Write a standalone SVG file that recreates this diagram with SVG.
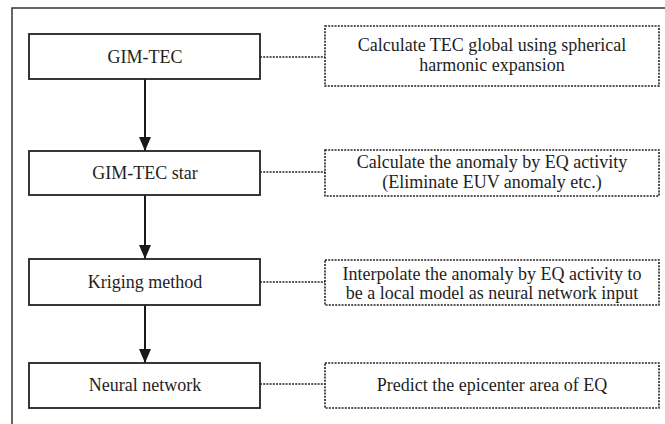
<svg xmlns="http://www.w3.org/2000/svg" width="665" height="424" viewBox="0 0 665 424">
  <style>
    .frame { fill: none; stroke: #333; stroke-width: 1.5; }
    .step { fill: #fff; stroke: #222; stroke-width: 1.8; }
    .note { fill: #fff; stroke: #222; stroke-width: 1.6; stroke-dasharray: 2 1.2; }
    .flow { stroke: #1a1a1a; stroke-width: 2; fill: none; }
    .link { stroke: #222; stroke-width: 1.6; stroke-dasharray: 2 1.2; fill: none; }
    .label { font-family: 'Liberation Serif', 'Times New Roman', serif; font-size: 18px; fill: #1e1e1e; text-anchor: middle; }
  </style>
  <defs>
    <marker id="arrow" viewBox="0 0 14 12" refX="14" refY="6" markerWidth="14" markerHeight="12" markerUnits="userSpaceOnUse" orient="auto">
      <path d="M0,0 L14,6 L0,12 Z" fill="#1a1a1a"/>
    </marker>
  </defs>

  <!-- outer frame -->
  <rect class="frame" x="12" y="8" width="660" height="430"/>

  <!-- connectors -->
  <g id="connectors">
    <line class="flow" x1="145" y1="79" x2="145" y2="151" marker-end="url(#arrow)"/>
    <line class="flow" x1="145" y1="195" x2="145" y2="259" marker-end="url(#arrow)"/>
    <line class="flow" x1="145" y1="305" x2="145" y2="363" marker-end="url(#arrow)"/>
    <line class="link" x1="260" y1="57" x2="325" y2="57"/>
    <line class="link" x1="260" y1="172" x2="325" y2="172"/>
    <line class="link" x1="260" y1="282" x2="325" y2="282"/>
    <line class="link" x1="260" y1="384" x2="325" y2="384"/>
  </g>

  <!-- process steps -->
  <g id="gim-tec">
    <rect class="step" x="29" y="34" width="231" height="45"/>
    <text class="label" x="145" y="63">GIM-TEC</text>
  </g>
  <g id="gim-tec-star">
    <rect class="step" x="29" y="151" width="231" height="44"/>
    <text class="label" x="145" y="179">GIM-TEC star</text>
  </g>
  <g id="kriging">
    <rect class="step" x="29" y="259" width="231" height="46"/>
    <text class="label" x="145" y="288">Kriging method</text>
  </g>
  <g id="neural-network">
    <rect class="step" x="29" y="363" width="231" height="45"/>
    <text class="label" x="145" y="391">Neural network</text>
  </g>

  <!-- descriptions -->
  <g id="note-gim-tec">
    <rect class="note" x="325" y="26" width="334" height="60"/>
    <text class="label" x="492" y="51">Calculate TEC global using spherical</text>
    <text class="label" x="492" y="71">harmonic expansion</text>
  </g>
  <g id="note-gim-tec-star">
    <rect class="note" x="325" y="150" width="334" height="46"/>
    <text class="label" x="492" y="168">Calculate the anomaly by EQ activity</text>
    <text class="label" x="492" y="188">(Eliminate EUV anomaly etc.)</text>
  </g>
  <g id="note-kriging">
    <rect class="note" x="325" y="260" width="334" height="45"/>
    <text class="label" x="492" y="280">Interpolate the anomaly by EQ activity to</text>
    <text class="label" x="492" y="299">be a local model as neural network input</text>
  </g>
  <g id="note-neural-network">
    <rect class="note" x="325" y="363" width="334" height="45"/>
    <text class="label" x="492" y="391">Predict the epicenter area of EQ</text>
  </g>
</svg>
